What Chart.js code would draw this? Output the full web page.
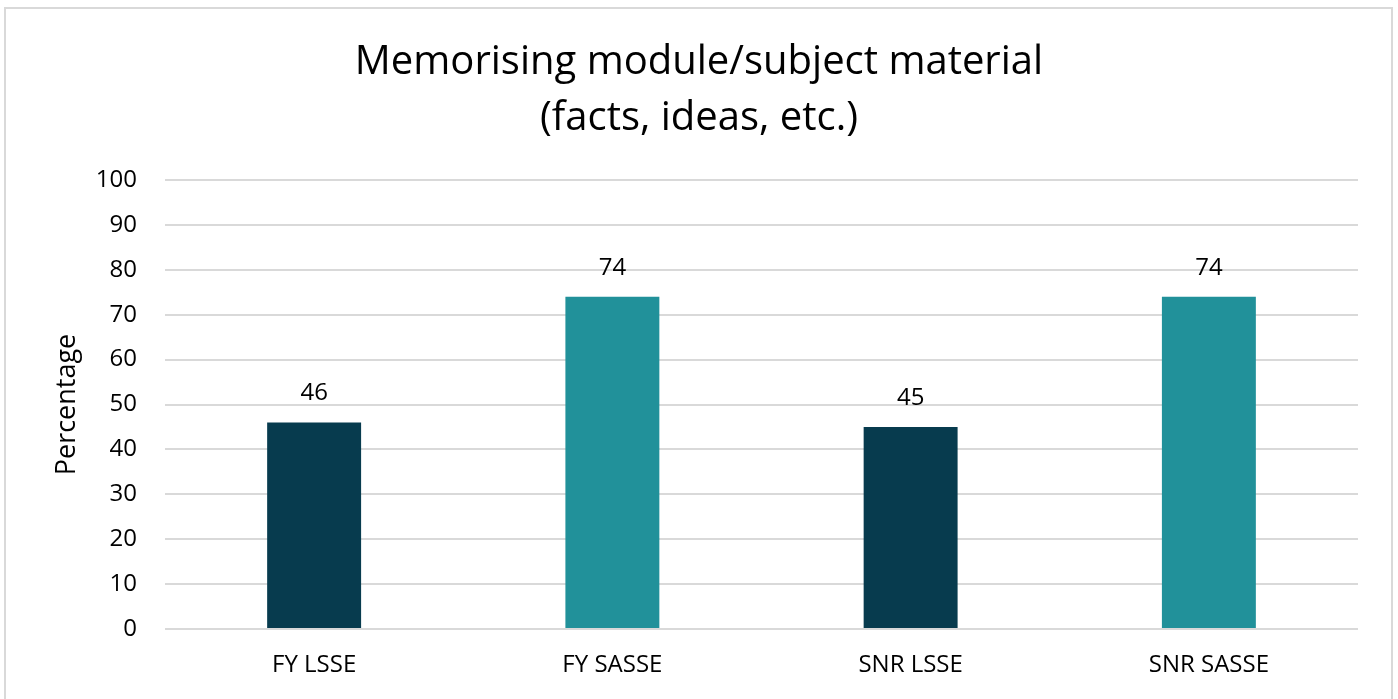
<!DOCTYPE html>
<html>
<head>
<meta charset="utf-8">
<script src="https://cdn.jsdelivr.net/npm/chart.js"></script>
<style>
    html, body { margin: 0; padding: 0; background: #ffffff; }
    #wrap { width: 1398px; height: 699px; position: relative; }
</style>
</head>
<body>
<div id="wrap"><canvas id="chart" width="1398" height="699"></canvas></div>
<script>
// Chart data
const categories = ['FY LSSE', 'FY SASSE', 'SNR LSSE', 'SNR SASSE'];
const percentages = [46, 74, 45, 74];
const barColours = ['#073b4e', '#21919a', '#073b4e', '#21919a'];
const titleLines = ['Memorising module/subject material', '(facts, ideas, etc.)'];
const yTicks = [0, 10, 20, 30, 40, 50, 60, 70, 80, 90, 100];

const FONT = '"Open Sans", "Noto Sans", sans-serif';
const TITLE_SIZE = 40;
const TITLE_LINE = 56;

// Light outer frame plus the title, centred on the whole canvas
const frame = {
    id: 'frame',
    beforeDraw(chart) {
        const ctx = chart.ctx;
        ctx.save();
        ctx.fillStyle = '#ffffff';
        ctx.fillRect(0, 0, chart.width, chart.height);
        ctx.strokeStyle = '#d9d9d9';
        ctx.lineWidth = 2;
        ctx.strokeRect(5, 8, 1387, 700);
        ctx.restore();
    },
    afterDraw(chart) {
        const ctx = chart.ctx;
        const box = chart.titleBlock;
        ctx.save();
        ctx.font = TITLE_SIZE + 'px ' + FONT;
        ctx.fillStyle = '#000000';
        ctx.textAlign = 'center';
        ctx.textBaseline = 'middle';
        titleLines.forEach((line, i) => {
            ctx.fillText(line, chart.width / 2, box.top + box.options.padding.top + TITLE_LINE * (i + 0.5));
        });
        ctx.restore();
    }
};

// Value labels above each bar
const valueLabels = {
    id: 'valueLabels',
    afterDatasetsDraw(chart) {
        const ctx = chart.ctx;
        ctx.save();
        ctx.font = '24px ' + FONT;
        ctx.fillStyle = '#000000';
        ctx.textAlign = 'center';
        ctx.textBaseline = 'alphabetic';
        chart.getDatasetMeta(0).data.forEach((bar, i) => {
            ctx.fillText(String(percentages[i]), bar.x, bar.y - 22);
        });
        ctx.restore();
    }
};

new Chart(document.getElementById('chart'), {
    type: 'bar',
    data: {
        labels: categories,
        datasets: [{
            data: percentages,
            backgroundColor: barColours,
            borderWidth: 0,
            categoryPercentage: 1,
            barPercentage: 0.315
        }]
    },
    options: {
        responsive: false,
        animation: false,
        layout: { padding: { left: 5, right: 40, top: 0, bottom: 0 } },
        plugins: {
            legend: { display: false },
            tooltip: { enabled: false },
            // space is reserved here, text itself is drawn by the frame plugin
            title: {
                display: true,
                text: titleLines,
                color: 'rgba(0,0,0,0)',
                font: { family: FONT, size: TITLE_SIZE, weight: 'normal', lineHeight: TITLE_LINE / TITLE_SIZE },
                padding: { top: 35, bottom: 33 }
            }
        },
        scales: {
            x: {
                grid: { display: false },
                border: { display: false },
                ticks: {
                    color: '#000000',
                    font: { family: FONT, size: 24 },
                    padding: 14
                },
                afterFit(scale) { scale.height = 70; }
            },
            y: {
                min: 0,
                max: 100,
                afterBuildTicks(scale) { scale.ticks = yTicks.map(v => ({ value: v })); },
                grid: { color: '#d9d9d9', lineWidth: 2, drawTicks: false },
                border: { display: false },
                ticks: {
                    color: '#000000',
                    font: { family: FONT, size: 24 },
                    padding: 28
                },
                title: {
                    display: true,
                    text: 'Percentage',
                    color: '#000000',
                    font: { family: FONT, size: 27 },
                    padding: { top: 46, bottom: 0 }
                },
                afterFit(scale) { scale.width = 160; }
            }
        }
    },
    plugins: [frame, valueLabels]
});
</script>
</body>
</html>
